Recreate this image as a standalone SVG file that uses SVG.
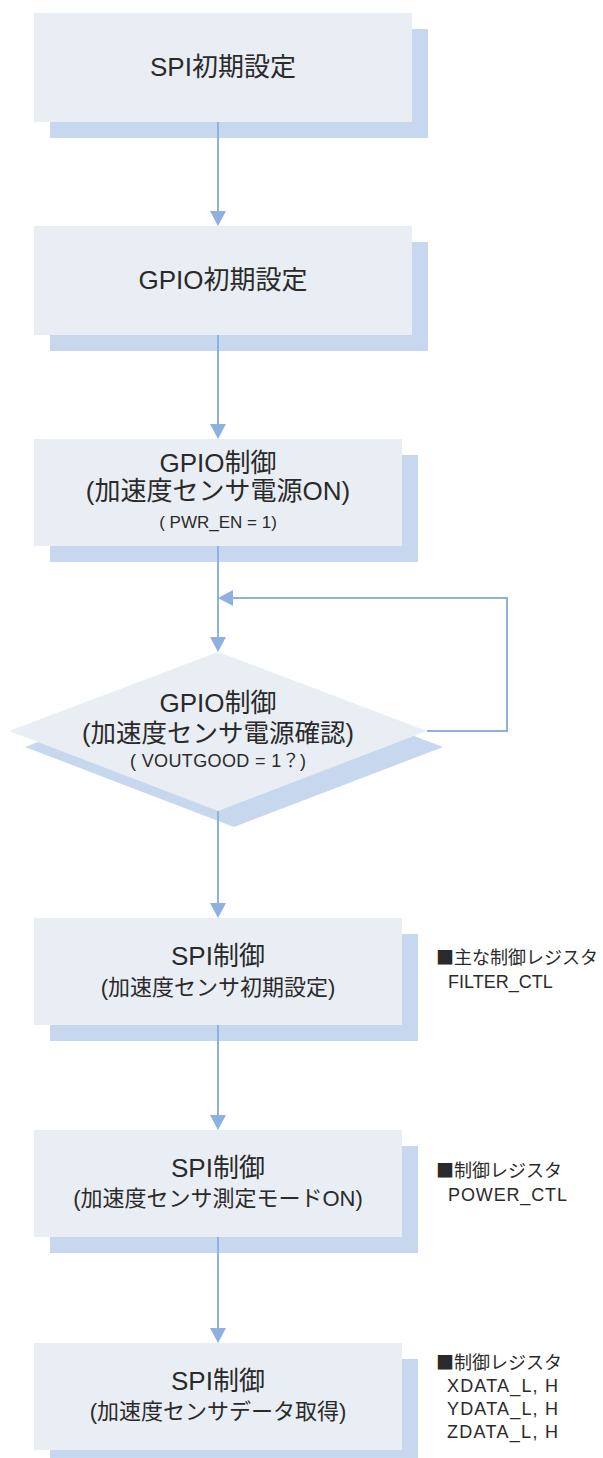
<svg xmlns="http://www.w3.org/2000/svg" width="603" height="1458" viewBox="0 0 603 1458">
<style>
.front{fill:#E9EEF5}
.shadow{fill:#C6D7EE}
.t{font-family:"Liberation Sans","Noto Sans CJK JP",sans-serif;fill:#2a2a2a;text-anchor:middle}
.a{font-family:"Liberation Sans","Noto Sans CJK JP",sans-serif;fill:#2a2a2a;font-size:18px}
.sq{font-family:"Noto Sans CJK JP",sans-serif}
.t26{font-size:26px}
.t22{font-size:22px}
.t17{font-size:17px}
.conn{fill:none;stroke:#8EB1E2;stroke-width:2;marker-end:url(#ah)}
</style>
<defs>
<marker id="ah" markerUnits="userSpaceOnUse" markerWidth="16" markerHeight="16" viewBox="0 0 16 16" refX="5" refY="8" orient="auto">
<path d="M0,0 L15,8 L0,16 z" fill="#8EB1E2"/>
</marker>
</defs>
<rect width="603" height="1458" fill="#fff"/>
<g id="n1">
<rect class="shadow" x="50" y="29" width="378" height="109"/>
<rect class="front" x="34" y="13" width="378" height="109"/>
<text class="t t26" x="223" y="76">SPI初期設定</text>
</g>
<g id="n2">
<rect class="shadow" x="50" y="242" width="378" height="109"/>
<rect class="front" x="34" y="226" width="378" height="109"/>
<text class="t t26" x="223" y="289">GPIO初期設定</text>
</g>
<g id="n3">
<rect class="shadow" x="50" y="455" width="368" height="107"/>
<rect class="front" x="34" y="439" width="368" height="107"/>
<text class="t t26" x="218" y="472">GPIO制御</text>
<text class="t t26" x="218" y="500">(加速度センサ電源ON)</text>
<text class="t t17" x="218" y="528">( PWR_EN = 1)</text>
</g>
<g id="n4">
<polygon class="shadow" points="234,668 443,747 234,827 25,747"/>
<polygon class="front" points="218,652 427,731 218,811 9,731"/>
<text class="t t26" x="218" y="712">GPIO制御</text>
<text class="t" style="font-size:25.5px" x="218" y="742">(加速度センサ電源確認)</text>
<text class="t" style="font-size:18px" x="218" y="767" textLength="176" lengthAdjust="spacing">( VOUTGOOD = 1？)</text>
</g>
<g id="n5">
<rect class="shadow" x="50" y="934" width="368" height="107"/>
<rect class="front" x="34" y="918" width="368" height="107"/>
<text class="t t26" x="218" y="965">SPI制御</text>
<text class="t t22" x="218" y="995">(加速度センサ初期設定)</text>
</g>
<g id="n6">
<rect class="shadow" x="50" y="1146" width="368" height="107"/>
<rect class="front" x="34" y="1130" width="368" height="107"/>
<text class="t t26" x="218" y="1177">SPI制御</text>
<text class="t t22" x="218" y="1206">(加速度センサ測定モードON)</text>
</g>
<g id="n7">
<rect class="shadow" x="50" y="1359" width="368" height="107"/>
<rect class="front" x="34" y="1343" width="368" height="107"/>
<text class="t t26" x="218" y="1390">SPI制御</text>
<text class="t t22" x="218" y="1419">(加速度センサデータ取得)</text>
</g>
<g id="notes">
<text class="a" x="436" y="964"><tspan class="sq">■</tspan>主な制御レジスタ</text>
<text class="a" x="448" y="988">FILTER_CTL</text>
<text class="a" x="436" y="1177"><tspan class="sq">■</tspan>制御レジスタ</text>
<text class="a" x="448" y="1201" textLength="119" lengthAdjust="spacing">POWER_CTL</text>
<text class="a" x="436" y="1369"><tspan class="sq">■</tspan>制御レジスタ</text>
<text class="a" x="447" y="1392" textLength="111" lengthAdjust="spacing">XDATA_L, H</text>
<text class="a" x="447" y="1415" textLength="111" lengthAdjust="spacing">YDATA_L, H</text>
<text class="a" x="447" y="1438" textLength="111" lengthAdjust="spacing">ZDATA_L, H</text>
</g>
<g id="connectors">
<path class="conn" d="M218,122 V216"/>
<path class="conn" d="M218,335 V429"/>
<path class="conn" d="M218,546 V642"/>
<path class="conn" d="M427,731 H507 V598 H228"/>
<path class="conn" d="M218,811 V908"/>
<path class="conn" d="M218,1025 V1120"/>
<path class="conn" d="M218,1237 V1333"/>
</g>
</svg>
